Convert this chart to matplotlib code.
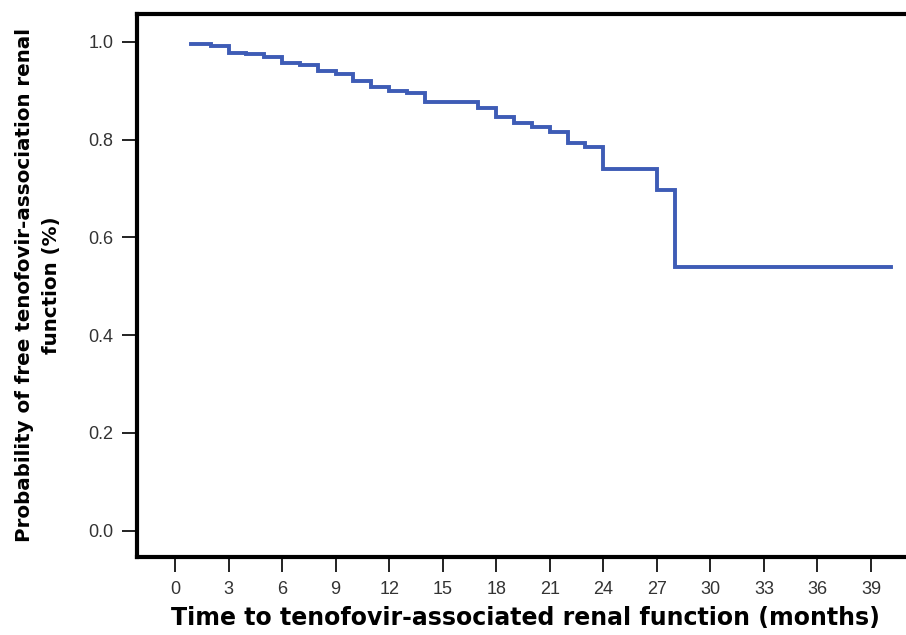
import matplotlib
matplotlib.use("Agg")
import matplotlib.pyplot as plt
from matplotlib import font_manager

# Kaplan-Meier step data (months, survival probability)
times = [0.9, 2, 3, 4, 5, 6, 7, 8, 9, 10, 11, 12, 13, 14, 17, 18, 19, 20,
         21, 22, 23, 24, 27, 28, 40.1]
surv = [0.995, 0.992, 0.977, 0.975, 0.969, 0.956, 0.953, 0.940, 0.934, 0.920,
        0.907, 0.900, 0.896, 0.876, 0.865, 0.847, 0.833, 0.826, 0.816, 0.794,
        0.784, 0.739, 0.697, 0.540, 0.540]
xticks = list(range(0, 40, 3))
yticks = [0.0, 0.2, 0.4, 0.6, 0.8, 1.0]

names = {f.name for f in font_manager.fontManager.ttflist}
tick_family = ["Liberation Sans Narrow"] if "Liberation Sans Narrow" in names else ["Liberation Sans"]

W, H = 906, 635
fig = plt.figure(figsize=(W / 100, H / 100), dpi=100)
left, right, top, bottom = 137, 912, 14, 557
ax = fig.add_axes([left / W, 1 - bottom / H, (right - left) / W, (bottom - top) / H])

ax.step(times, surv, where="post", color="#3E5CB6", lw=2.8, solid_joinstyle="miter")

ax.set_xlim(-2.13, 41.3)
ax.set_ylim(-0.054, 1.057)
ax.set_xticks(xticks)
ax.set_yticks(yticks)
ax.set_yticklabels([f"{v:.1f}" for v in yticks])

for s in ax.spines.values():
    s.set_linewidth(3)
    s.set_color("black")
ax.spines["right"].set_visible(False)

ax.tick_params(axis="both", direction="out", length=11, width=1.4, color="#222222",
               labelsize=13, labelcolor="#333333", pad=6)
for lab in ax.get_xticklabels() + ax.get_yticklabels():
    lab.set_family(tick_family)

fig.text(525 / W, 1 - 618 / H,
         "Time to tenofovir-associated renal function (months)",
         ha="center", va="center", fontsize=17, fontweight="bold")
fig.text(38 / W, 1 - 285 / H,
         "Probability of free tenofovir-association renal\nfunction (%)",
         rotation=90, ha="center", va="center", fontsize=14.3, fontweight="bold",
         linespacing=1.55)

fig.savefig("out.png", dpi=100)
